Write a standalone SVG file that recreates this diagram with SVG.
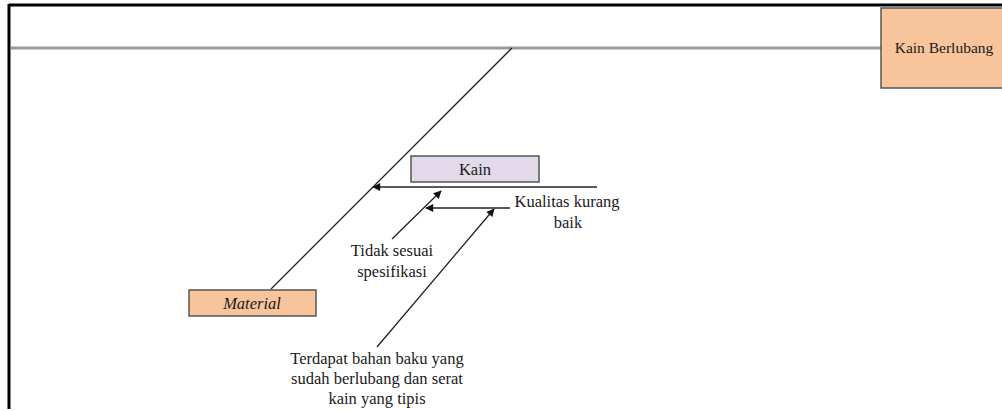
<svg xmlns="http://www.w3.org/2000/svg" width="1002" height="411" viewBox="0 0 1002 411">
<defs>
<style>
text{font-family:'Liberation Serif','Times New Roman','DejaVu Serif',serif;font-size:16.5px;fill:#1a1a1a;text-anchor:middle}
.box{stroke:#555;stroke-width:1.5}
.ln{stroke:#222;stroke-width:1.3;fill:none}
</style>
<marker id="ah" viewBox="0 0 10 10" refX="9" refY="5" markerWidth="9" markerHeight="8" orient="auto" markerUnits="userSpaceOnUse">
<path d="M0,0 L10,5 L0,10 z" fill="#111"/>
</marker>
</defs>
<rect width="1002" height="411" fill="#fff"/>
<g id="frame">
<line x1="9" y1="5" x2="1002" y2="5" stroke="#000" stroke-width="3"/>
<line x1="9" y1="4" x2="9" y2="409" stroke="#000" stroke-width="3"/>
</g>
<g id="connectors">
<line x1="11" y1="48" x2="881" y2="48" stroke="#999" stroke-width="3"/>
<line class="ln" x1="512" y1="48" x2="271" y2="289" stroke="#444"/>
<line class="ln" x1="597" y1="187" x2="373" y2="187" marker-end="url(#ah)"/>
<line class="ln" x1="510" y1="208" x2="426" y2="208" marker-end="url(#ah)"/>
<line class="ln" x1="392" y1="239" x2="441" y2="191" marker-end="url(#ah)"/>
<line class="ln" x1="377" y1="347" x2="494" y2="209" marker-end="url(#ah)"/>
</g>
<g id="effect">
<rect class="box" x="881" y="8" width="124" height="80" fill="#F8C49C"/>
<text x="944" y="53" style="font-size:15.5px">Kain Berlubang</text>
</g>
<g id="material">
<rect class="box" x="189" y="290" width="127" height="26" fill="#F8C49C"/>
<text x="252" y="309" font-style="italic">Material</text>
</g>
<g id="kain">
<rect class="box" x="411" y="156" width="128" height="26" fill="#E2DAEA"/>
<text x="475" y="175">Kain</text>
</g>
<g id="cause1">
<text x="567" y="207">Kualitas kurang</text>
<text x="568" y="228">baik</text>
</g>
<g id="cause2">
<text x="392" y="256">Tidak sesuai</text>
<text x="392" y="277">spesifikasi</text>
</g>
<g id="cause3">
<text x="377" y="364">Terdapat bahan baku yang</text>
<text x="377" y="384">sudah berlubang dan serat</text>
<text x="377" y="404">kain yang tipis</text>
</g>
</svg>
